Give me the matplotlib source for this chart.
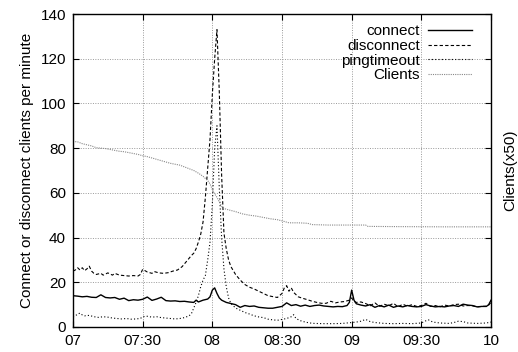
import matplotlib
matplotlib.use("Agg")
import matplotlib.pyplot as plt

plt.rcParams["font.family"] = ["Liberation Sans", "DejaVu Sans"]

# minutes after 07:00
t_conn = [0, 2, 4, 6, 8, 10, 12, 14, 16, 18, 20, 22, 24, 26, 28, 30, 32, 34, 36, 38,
          40, 42, 44, 46, 48, 50, 52, 53, 54, 56, 58, 59, 60, 61, 62, 63, 64, 66, 68, 70,
          72, 74, 76, 78, 80, 82, 84, 86, 88, 90, 92, 94, 96, 98, 100, 102, 104, 106, 108, 110,
          112, 114, 116, 118, 119, 120, 121, 122, 124, 126, 128, 130, 132, 134, 136, 138, 140, 142, 144, 146,
          148, 150, 152, 154, 156, 158, 160, 162, 164, 166, 168, 170, 172, 174, 176, 178, 179, 180]
connect = [14, 13.8, 13.5, 13.7, 13.3, 13.2, 14.4, 13.2, 13.0, 13.2, 12.4, 12.9, 11.8, 12.2, 12.0, 12.4, 13.4, 11.9, 12.5, 13.3,
           11.8, 11.6, 11.7, 11.4, 11.5, 11.2, 11.0, 12.0, 11.2, 12.0, 12.5, 13.5, 16.5, 17.5, 15, 13, 12, 11, 10.5, 10,
           8.8, 9.6, 9.2, 9.4, 8.8, 8.6, 8.4, 8.4, 8.8, 9.2, 10.8, 9.6, 10, 9.3, 9.8, 9.2, 9.6, 9.8, 9.4, 9.2,
           9.0, 9.2, 9.1, 9.6, 11, 16.5, 12, 10.4, 9.8, 9.4, 10, 8.8, 9.6, 9.0, 9.8, 8.8, 9.4, 9.0, 9.6, 9.2,
           9.0, 9.2, 10.0, 9.4, 9.0, 9.2, 9.0, 9.4, 9.6, 9.2, 10.2, 9.8, 9.6, 9.0, 9.2, 9.2, 10, 12]

t_disc = [0, 1, 2, 3, 4, 5, 6, 7, 8, 9, 10, 12, 13, 15, 17, 18, 20, 22, 24, 26,
          28, 29, 30, 31, 32, 34, 35, 37, 39, 41, 43, 45, 47, 49, 51, 52, 53, 54, 55, 56,
          57, 58, 59, 60, 61, 62, 63, 64, 65, 66, 67, 68, 70, 72, 74, 76, 78, 80, 82, 84,
          86, 88, 90, 91, 92, 93, 94, 95, 97, 99, 101, 103, 105, 107, 109, 111, 113, 115, 117, 119,
          120, 121, 122, 124, 126, 128, 130, 132, 134, 136, 138, 140, 142, 144, 146, 148, 150, 152, 154, 156,
          158, 160, 162, 164, 166, 168, 170, 172, 174, 176, 178, 179, 180]
disconnect = [25, 25.5, 26.5, 25.5, 26.5, 25.2, 26.0, 27.2, 25, 24, 23.5, 24, 23.2, 24.2, 23.2, 24, 23.2, 23, 22.8, 23.0,
              22.8, 23.5, 25.8, 25.2, 24.6, 24.0, 24.8, 24.2, 24.0, 24.3, 25, 25.5, 27, 29.5, 32, 33, 35, 38, 41.5, 47,
              58, 71, 84, 104, 120, 133, 105, 68, 42, 35, 30, 27, 23.5, 21, 19, 17.8, 17, 16, 15, 14,
              13.6, 13.2, 15, 17.5, 18.5, 16, 17.5, 15.5, 13.5, 12.8, 12.2, 11.5, 11.0, 10.6, 10.6, 11.5, 10.8, 11.2, 11.4, 12,
              13, 11.5, 11, 11.2, 10.5, 9.5, 10.8, 9.2, 10.2, 9.5, 10.6, 9.0, 10.2, 9.3, 10.0, 9.2, 9.6, 10.6, 9.2, 9.6,
              9.0, 9.8, 9.4, 10.0, 10.2, 9.4, 9.6, 9.5, 9.0, 9.2, 9.3, 9.8, 11]

t_ping = [0, 1, 2, 3, 4, 5, 7, 9, 11, 13, 15, 17, 19, 21, 23, 25, 27, 29, 30, 32,
          34, 36, 38, 40, 42, 44, 46, 48, 50, 51, 52, 53, 54, 55, 56, 57, 58, 59, 60, 61,
          62, 63, 64, 65, 66, 67, 68, 70, 72, 74, 76, 78, 80, 82, 84, 86, 88, 90, 92, 94,
          95, 96, 98, 100, 102, 104, 108, 112, 116, 118, 120, 122, 124, 126, 128, 130, 134, 138, 142, 146,
          150, 152, 153, 155, 158, 162, 164, 166, 168, 170, 174, 178, 180]
pingtimeout = [4.5, 5.0, 5.8, 6.2, 5.4, 5.0, 5.2, 4.6, 4.3, 4.6, 4.4, 4.0, 3.8, 3.6, 3.8, 3.5, 3.6, 3.8, 4.6, 4.8,
               4.4, 4.6, 4.2, 4.0, 3.8, 3.6, 3.8, 4.2, 5.0, 6.0, 8.5, 11, 14, 18, 21, 23, 30, 38, 55, 80,
               90, 62, 40, 26, 18, 13, 10.5, 8.5, 7.5, 6.5, 5.8, 5.0, 4.5, 4.2, 3.5, 3.2, 3.0, 3.4, 3.8, 4.6,
               5.5, 3.8, 2.8, 2.2, 1.8, 1.6, 1.5, 1.5, 1.6, 1.8, 2.0, 2.2, 2.6, 3.4, 2.4, 2.0, 1.6, 1.5, 1.6, 1.5,
               1.8, 2.8, 3.2, 2.2, 1.8, 1.6, 2.0, 2.6, 2.4, 1.8, 1.6, 1.8, 2.2]

t_cli = [0, 2, 4, 6, 8, 10, 12, 14, 16, 18, 20, 22, 24, 26, 28, 30, 32, 34, 36, 38,
         40, 42, 44, 46, 48, 50, 52, 54, 56, 58, 59, 60, 61, 62, 63, 64, 65, 67, 70, 73,
         76, 79, 82, 85, 88, 91, 93, 97, 101, 103, 110, 120, 126, 127, 140, 160, 180]
clients = [83, 82.8, 82, 81.5, 81, 80.2, 80, 79.8, 79.4, 79, 78.6, 78.4, 78, 77.6, 77.2, 76.6, 76.2, 75.6, 75, 74.4,
           73.8, 73.2, 72.8, 72.4, 71.6, 70.8, 70.0, 68.8, 67.4, 65.5, 64, 61.5, 59.5, 58, 56, 54, 53, 52.4, 51.6, 50.6,
           50, 49.6, 49, 48.4, 48.0, 47.2, 46.6, 46.6, 46.4, 45.8, 45.6, 45.6, 45.6, 45.0, 44.9, 44.8, 44.8]

xticks = [0, 30, 60, 90, 120, 150, 180]
xlabels = ["07", "07:30", "08", "08:30", "09", "09:30", "10"]

fig = plt.figure(figsize=(5.18, 3.52), dpi=100)
ax = fig.add_axes([73 / 518, 1 - 327 / 352, 418 / 518, 313 / 352])

ax.plot(t_conn, connect, color="black", lw=1.0, label="connect")
ax.plot(t_disc, disconnect, color="black", lw=0.8, ls=(0, (3, 2)), label="disconnect")
ax.plot(t_ping, pingtimeout, color="black", lw=0.8, ls=(0, (1, 2)), label="pingtimeout")
ax.plot(t_cli, clients, color="#888888", lw=0.8, ls=(0, (1, 1)), label="Clients")

ax.set_xlim(0, 180)
ax.set_ylim(0, 140)
ax.set_xticks(xticks)
ax.set_xticklabels(xlabels)
ax.set_yticks(range(0, 141, 20))
ax.grid(True, color="#999999", ls=(0, (1, 1.5)), lw=0.7)
ax.tick_params(direction="in", length=4, labelsize=11, top=True, right=True, pad=5)
for s in ax.spines.values():
    s.set_linewidth(1.0)

ax.set_ylabel("Connect or disconnect clients per minute", fontsize=11, labelpad=5)
fig.text(0.985, (1 - 327 / 352 + 1 - 14 / 352) / 2, "Clients(x50)", rotation=90,
         va="center", ha="center", fontsize=11)

leg = ax.legend(loc="upper right", bbox_to_anchor=(0.969, 0.987), borderaxespad=0,
                frameon=False, markerfirst=False, fontsize=11,
                handlelength=2.9, handletextpad=0.5, labelspacing=0.05)

fig.savefig("out.png", dpi=100)
